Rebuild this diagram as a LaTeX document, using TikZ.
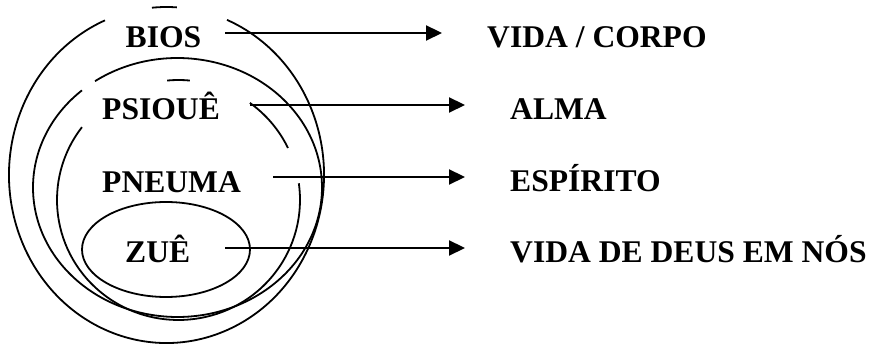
\documentclass[tikz,border=0pt]{standalone}
\usepackage{fontspec}
\setmainfont{Liberation Serif}
\usetikzlibrary{arrows.meta}
\begin{document}
\begin{tikzpicture}[x=1pt,y=1pt,
  ring/.style={line width=1.8pt},
  lbl/.style={inner sep=0pt,anchor=base west,font=\fontsize{31.6}{36}\selectfont\bfseries},
  arr/.style={line width=2.2pt,-{Triangle[length=16pt,width=15pt]}}]
\useasboundingbox (0,0) rectangle (873,345);
% outer ring (BIOS)
\draw[ring] (166.5,170) ++(113:157.5 and 168) arc[start angle=113,end angle=427.4,x radius=157.5,y radius=168];
\draw[ring] (166.5,170) ++(86.2:157.5 and 168) arc[start angle=86.2,end angle=95.3,x radius=157.5,y radius=168];
% second ring (PSIOUE)
\draw[ring] (177.5,157.5) ++(131.4:144.5 and 129.5) arc[start angle=131.4,end angle=484.8,x radius=144.5,y radius=129.5];
% third ring (PNEUMA)
\draw[ring] (178.5,145) ++(142.6:121.5 and 120) arc[start angle=142.6,end angle=368,x radius=121.5,y radius=120];
\draw[ring] (178.5,145) ++(25.7:121.5 and 120) arc[start angle=25.7,end angle=54,x radius=121.5,y radius=120];
\draw[ring] (178.5,145) ++(84.6:121.5 and 120) arc[start angle=84.6,end angle=95.4,x radius=121.5,y radius=120];
% inner ellipse (ZUE)
\draw[ring] (166,95.5) ellipse[x radius=84,y radius=47.5];
% labels
\node[lbl] (bios) at (125.5,297) {BIOS};
\node[lbl] (psi) at (102,225) {PSIOUÊ};
\node[lbl] (pne) at (102,152.5) {PNEUMA};
\node[lbl] (zue) at (125,82) {ZUÊ};
\node[lbl] (vida) at (487,297) {VIDA / CORPO};
\node[lbl] (alma) at (510,225) {ALMA};
\node[lbl] (esp) at (510,153) {ESPÍRITO};
\node[lbl] (deus) at (510,82) {VIDA DE DEUS EM NÓS};
% arrows
\draw[arr] ([shift={(24,15)}]bios.base east) -- ([shift={(-45,15)}]vida.base west);
\draw[arr] ([shift={(30.4,15)}]psi.base east) -- ([shift={(-45,15)}]alma.base west);
\draw[arr] ([shift={(32.3,15.5)}]pne.base east) -- ([shift={(-45,15)}]esp.base west);
\draw[arr] ([shift={(35,15)}]zue.base east) -- ([shift={(-45,15)}]deus.base west);
\end{tikzpicture}
\end{document}
